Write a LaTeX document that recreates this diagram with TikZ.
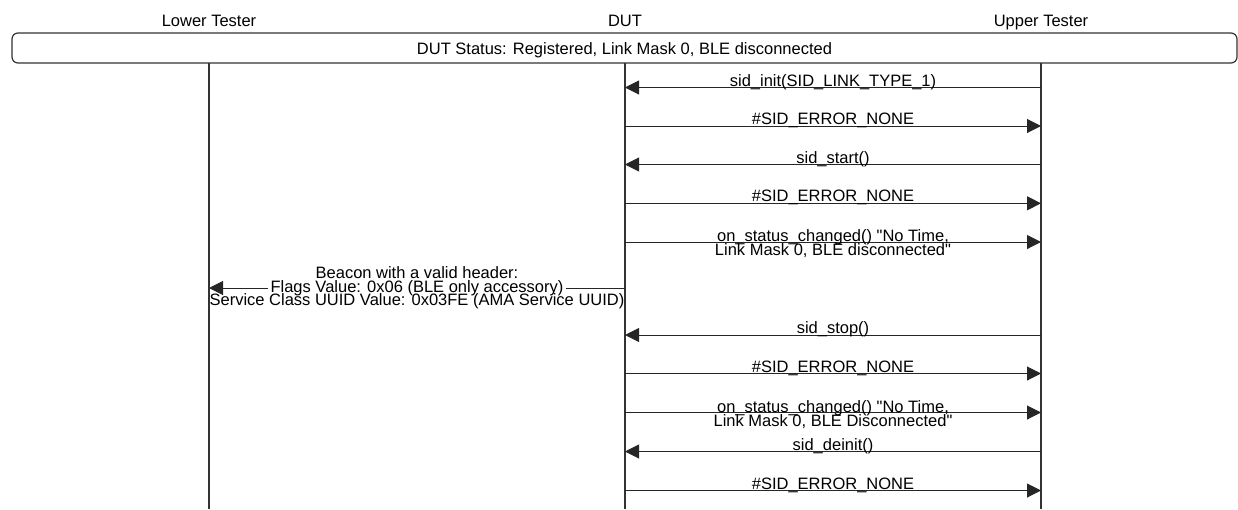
\documentclass[tikz,border=0pt]{standalone}
\usepackage{fontspec}
\setmainfont{Liberation Sans}
\usetikzlibrary{arrows.meta,calc}
\begin{document}
\begin{tikzpicture}[x=1pt,y=-1pt,
  every node/.style={font=\fontsize{16.5}{16.5}\selectfont, inner sep=0pt},
  life/.style={draw=black!80, line width=1.4pt},
  msg/.style={draw=black!85, line width=1pt, -{Triangle[length=14pt,width=14pt]}},
  lbl/.style={anchor=base},
  statusbox/.style={draw=black!80, line width=1.2pt, rounded corners=6pt,
    minimum width=1225pt, minimum height=30pt, text height=13pt, text depth=0pt},
]
\useasboundingbox (0,0) rectangle (1238,509);

% headers
\node[lbl] (hLT)  at (209,26)  {Lower Tester};
\node[lbl] (hDUT) at (625,26)  {DUT};
\node[lbl] (hUT)  at (1041,26) {Upper Tester};

% status box
\node[statusbox] (status) at (624.5,48) {DUT Status: Registered, Link Mask 0, BLE disconnected};

% lifelines
\coordinate (LT0) at (209,63);  \coordinate (LT1) at (209,509);
\coordinate (D0)  at (625,63);  \coordinate (D1)  at (625,509);
\coordinate (U0)  at (1041,63); \coordinate (U1)  at (1041,509);
\draw[life] (LT0) -- (LT1);
\draw[life] (D0) -- (D1);
\draw[life] (U0) -- (U1);

% message anchor points
\foreach \i/\y in {1/87.5,2/126,3/164.5,4/203.3,5/242,6/288,7/335,8/373.5,9/412.5,10/451.5,11/490.5}{
  \coordinate (l\i) at (209,\y);
  \coordinate (d\i) at (625,\y);
  \coordinate (u\i) at (1041,\y);
}

\draw[msg] (u1) -- node[lbl, yshift=1.5pt] (m1) {sid\_init(SID\_LINK\_TYPE\_1)} (d1);
\draw[msg] (d2) -- node[lbl, yshift=1.5pt] (m2) {\#SID\_ERROR\_NONE} (u2);
\draw[msg] (u3) -- node[lbl, yshift=1.5pt] (m3) {sid\_start()} (d3);
\draw[msg] (d4) -- node[lbl, yshift=1.5pt] (m4) {\#SID\_ERROR\_NONE} (u4);
\draw[msg] (d5) -- node[lbl, yshift=0.5pt] (m5a) {on\_status\_changed() \textquotedbl No Time,} (u5);
\node[lbl] (m5b) at ($(m5a.base)+(0,14)$) {Link Mask 0, BLE disconnected\textquotedbl};

\draw[msg] (d6) -- node[lbl, fill=white, inner xsep=3pt, inner ysep=1pt, yshift=-4pt] (m6b) {Flags Value: 0x06 (BLE only accessory)} (l6);
\node[lbl] (m6a) at ($(m6b.base)+(0,-14)$) {Beacon with a valid header:};
\node[lbl] (m6c) at ($(m6b.base)+(0,13.5)$) {Service Class UUID Value: 0x03FE (AMA Service UUID)};

\draw[msg] (u7) -- node[lbl, yshift=1.5pt] (m7) {sid\_stop()} (d7);
\draw[msg] (d8) -- node[lbl, yshift=1.5pt] (m8) {\#SID\_ERROR\_NONE} (u8);
\draw[msg] (d9) -- node[lbl, yshift=0.5pt] (m9a) {on\_status\_changed() \textquotedbl No Time,} (u9);
\node[lbl] (m9b) at ($(m9a.base)+(0,14)$) {Link Mask 0, BLE Disconnected\textquotedbl};
\draw[msg] (u10) -- node[lbl, yshift=1.5pt] (m10) {sid\_deinit()} (d10);
\draw[msg] (d11) -- node[lbl, yshift=1.5pt] (m11) {\#SID\_ERROR\_NONE} (u11);
\end{tikzpicture}
\end{document}
